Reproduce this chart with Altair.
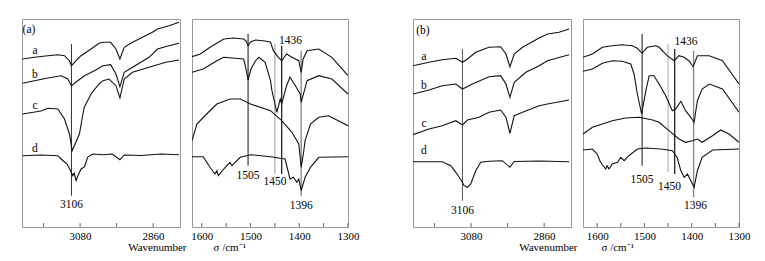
import altair as alt
import pandas as pd

FONT = "Liberation Serif"

# ---------- (a) 3300-2780 region: (wavenumber, relative intensity) ----------
A_HI_a = [(3253,168),(3218,169.7),(3177,171.3),(3147,172.3),(3127,171.3),(3112,166.3),(3106,161.3),(3092,166.3),(3077,171.3),(3047,178),(3023,183.7),(3011,184.7),(2988,184.7),(2972,178),(2960,168),(2947,179.7),(2922,184.7),(2892,189.7),(2862,194.7),(2847,198),(2812,201.3),(2782,204.7)]
A_HI_b = [(3253,143.7),(3218,146.3),(3177,149),(3137,151.3),(3117,148),(3106,141.3),(3087,146.3),(3067,151.3),(3037,156.3),(3011,161.3),(2988,162.3),(2972,153),(2960,140.3),(2947,154.7),(2922,159.7),(2872,169.7),(2847,178),(2812,181.3),(2782,183.7)]
A_HI_c = [(3253,113),(3198,116),(3177,118.7),(3147,118),(3127,108),(3112,93),(3104,76.3),(3082,93),(3072,112),(3067,120),(3047,133),(3023,143),(3011,146.3),(2993,148),(2972,141.3),(2960,129),(2947,148),(2922,154.7),(2872,159.7),(2822,164.7),(2782,167)]
A_HI_d = [(3253,71.3),(3198,72),(3147,71.3),(3137,68),(3127,65),(3119,63),(3113,59),(3107,55),(3102,51.3),(3098,54),(3092,46.3),(3087,51),(3077,58),(3067,60),(3057,70),(3042,73),(3011,72.3),(2983,73),(2960,67.3),(2947,72),(2896,71.5),(2836,73),(2782,72.3)]

# ---------- (a) 1620-1300 region ----------
A_LO_a = [(1620,170.3),(1603,173),(1583,179.7),(1555,188),(1535,189),(1514,188),(1509,186),(1505,181.3),(1500,185),(1490,187),(1470,186),(1459,184.7),(1453,176.3),(1443,169.7),(1436,166.3),(1426,173),(1415,169.7),(1401,166.3),(1396,154.7),(1392,168),(1384,176.3),(1360,178),(1333,169.7),(1300,151.3)]
A_LO_b = [(1620,154.7),(1597,158),(1569,166.3),(1555,169.7),(1514,168),(1510,160),(1505,147),(1499,158),(1490,166),(1483,169.7),(1470,164.7),(1459,146.3),(1456,136.3),(1446,114.7),(1439,128),(1436,123),(1426,141.3),(1419,149.7),(1408,141.3),(1398,133),(1396,124.7),(1384,146.3),(1360,151.3),(1333,148),(1300,133)]
A_LO_c = [(1620,86.3),(1610,103),(1590,113),(1569,123),(1542,128),(1521,128),(1500,123),(1459,116.3),(1436,106.3),(1415,94.7),(1401,83),(1396,59.7),(1391,75),(1388,86.3),(1377,103),(1360,109.7),(1340,111.3),(1300,101.3)]
A_LO_d = [(1620,70.3),(1597,70.3),(1583,59.7),(1573,53),(1569,56.3),(1566,51.3),(1555,58),(1542,64.7),(1538,61.3),(1521,69.7),(1500,72.3),(1459,70.3),(1429,68),(1419,48),(1412,49.7),(1405,44.7),(1401,48),(1396,36.3),(1388,49.7),(1377,59.7),(1360,69.7),(1300,70.3)]

# ---------- (b) 3300-2780 region ----------
B_HI_a = [(3255,161.3),(3207,164.7),(3167,167.3),(3126,168.7),(3106,164.7),(3091,168),(3066,174.7),(3026,179.7),(2991,180.3),(2975,173),(2963,160.3),(2950,173),(2925,179.7),(2875,189),(2850,193),(2815,194.7),(2785,198)]
B_HI_b = [(3255,133),(3207,137),(3167,141.3),(3126,143),(3106,138),(3076,143),(3026,150.3),(2991,151.3),(2975,143),(2963,129.7),(2950,144.7),(2915,154.7),(2875,161.3),(2850,166.3),(2785,172.3)]
B_HI_c = [(3255,92.3),(3207,98),(3167,101.3),(3126,106.3),(3106,102),(3091,107),(3056,109.7),(3026,114.7),(2991,117),(2975,109.7),(2963,93.7),(2950,111.3),(2925,114.7),(2875,121.3),(2850,123),(2785,127)]
B_HI_d = [(3255,65.3),(3167,65.3),(3141,61.3),(3126,54.7),(3116,49.7),(3110,47),(3101,41.3),(3091,39.7),(3081,43),(3066,56.3),(3051,64.7),(3026,65.7),(2986,66.3),(2963,59.7),(2950,65.5),(2875,66),(2785,65.3)]

# ---------- (b) 1630-1300 region ----------
B_LO_a = [(1630,169.7),(1610,173),(1589,179.7),(1568,181.3),(1547,182.3),(1526,181.3),(1516,179),(1505,173.7),(1494,179.7),(1476,181.3),(1469,179.7),(1452,171.3),(1437,166.3),(1427,171.3),(1416,169.7),(1406,166.3),(1397,160.3),(1388,171.3),(1363,171.3),(1335,166.3),(1300,143)]
B_LO_b = [(1630,155.7),(1610,158),(1589,163.7),(1568,166.3),(1547,165.7),(1529,163),(1522,153),(1515,133),(1506,113),(1497,136.3),(1490,151.3),(1480,151.3),(1469,143),(1455,131.3),(1441,116.3),(1434,118),(1423,125.7),(1413,116.3),(1402,109.7),(1395,104.7),(1388,126.3),(1378,138),(1363,143),(1335,138),(1300,114.7)]
B_LO_c = [(1630,93),(1610,99.7),(1589,103),(1568,106.3),(1540,109),(1512,109.7),(1483,107),(1469,104.7),(1448,96.3),(1427,88),(1413,84.7),(1399,86.3),(1388,88),(1378,84.7),(1356,91.3),(1339,97),(1321,93),(1300,84.7)]
B_LO_d = [(1630,77),(1610,78),(1600,73),(1593,64.7),(1582,58),(1579,61.3),(1575,58),(1568,63),(1557,64.7),(1550,69.7),(1543,66.3),(1533,71.3),(1515,78),(1497,79),(1465,78),(1441,76.3),(1431,69.7),(1423,56.3),(1416,49.7),(1409,53),(1402,46.3),(1395,39.7),(1388,56.3),(1378,69.7),(1356,77),(1300,78)]

# ---------- axes ----------
HI_LABELS = [3080, 2860]
HI_TICKS = [3190, 3080, 2970, 2860]
LO_LABELS = [1600, 1500, 1400, 1300]
LO_TICKS = [1600, 1550, 1500, 1450, 1400, 1350, 1300]

# ---------- annotations: (wavenumber, y_from, y_to, colour, width) ----------
A_HI_MARK = [(3106, 31.3, 183, "#333", 1)]
B_HI_MARK = [(3106, 26.3, 178, "#555", 1)]
A_LO_MARK = [(1505, 61.3, 193, "#111", 1), (1450, 53, 183, "#999", 1), (1436, 53, 181.3, "#111", 1.2), (1396, 31.3, 176.3, "#999", 1.6)]
B_LO_MARK = [(1505, 61.3, 193, "#111", 1), (1450, 54.7, 183, "#aaa", 1), (1436, 53, 178, "#111", 1.2), (1396, 29.7, 176.3, "#888", 1.3)]

# texts: (wavenumber, y, text)
A_HI_TEXT = [(3234, 197, "(a)"), (3216, 176, "a"), (3216, 152, "b"), (3216, 121.3, "c"), (3216, 78, "d"), (3106, 22, "3106")]
B_HI_TEXT = [(3225, 196, "(b)"), (3222, 169.7, "a"), (3222, 141.3, "b"), (3222, 103, "c"), (3222, 76.3, "d"), (3106, 16, "3106")]
A_LO_TEXT = [(1505, 51.5, "1505"), (1450, 45, "1450"), (1418, 186, "1436"), (1396, 21, "1396")]
B_LO_TEXT = [(1505, 47, "1505"), (1447, 40.5, "1450"), (1412, 185.5, "1436"), (1392, 21, "1396")]

H = 208


def panel(curves, domain, labels, ticks, marks, texts, width, title="", title_x=0, title_align="left"):
    rows = []
    for name, pts in curves.items():
        for wn, v in pts:
            rows.append({"wn": wn, "y": v, "curve": name})
    df = pd.DataFrame(rows)
    axis_kw = dict(values=labels, ticks=False, domain=False, grid=False, labelFont=FONT,
                   labelFontSize=11, labelColor="black", labelPadding=3, labelFlush=False,
                   format="d")
    if title:
        axis_kw.update(title=title, titleX=title_x, titleY=23, titleAlign=title_align,
                       titleBaseline="alphabetic", titleFont=FONT, titleFontSize=11,
                       titleFontWeight="normal", titleColor="black")
    else:
        axis_kw.update(title="")
    xscale = alt.Scale(domain=domain, reverse=True, nice=False, zero=False)
    yscale = alt.Scale(domain=[0, H], nice=False, zero=False)
    x = alt.X("wn:Q", scale=xscale, axis=alt.Axis(**axis_kw))

    lines = alt.Chart(df).mark_line(color="#111", strokeWidth=1.1, clip=True).encode(
        x=x, y=alt.Y("y:Q", scale=yscale, axis=None), detail="curve:N")

    tdf = pd.DataFrame({"wn": ticks})
    tick_layer = alt.Chart(tdf).mark_rule(color="#666", strokeWidth=1).encode(
        x=alt.X("wn:Q", scale=xscale), y=alt.value(H), y2=alt.value(H - 4))

    mdf = pd.DataFrame(marks, columns=["wn", "y1", "y2", "col", "sw"])
    mark_layer = alt.Chart(mdf).mark_rule().encode(
        x=alt.X("wn:Q", scale=xscale),
        y=alt.Y("y1:Q", scale=yscale, axis=None), y2="y2:Q",
        color=alt.Color("col:N", scale=None),
        strokeWidth=alt.StrokeWidth("sw:Q", scale=None))

    txdf = pd.DataFrame(texts, columns=["wn", "y", "label"])
    text_layer = alt.Chart(txdf).mark_text(font=FONT, fontSize=11.5, color="black",
                                           align="center", baseline="middle").encode(
        x=alt.X("wn:Q", scale=xscale), y=alt.Y("y:Q", scale=yscale, axis=None), text="label:N")

    return alt.layer(tick_layer, mark_layer, lines, text_layer).properties(width=width, height=H)


p1 = panel({"a": A_HI_a, "b": A_HI_b, "c": A_HI_c, "d": A_HI_d}, [2779, 3255], HI_LABELS, HI_TICKS,
           A_HI_MARK, A_HI_TEXT, 158, "Wavenumber", 164, "right")
p2 = panel({"a": A_LO_a, "b": A_LO_b, "c": A_LO_c, "d": A_LO_d}, [1300, 1620], LO_LABELS, LO_TICKS,
           A_LO_MARK, A_LO_TEXT, 156, "σ /cm⁻¹", 21, "left")
p3 = panel({"a": B_HI_a, "b": B_HI_b, "c": B_HI_c, "d": B_HI_d}, [2779, 3255], HI_LABELS, HI_TICKS,
           B_HI_MARK, B_HI_TEXT, 158, "Wavenumber", 164, "right")
p4 = panel({"a": B_LO_a, "b": B_LO_b, "c": B_LO_c, "d": B_LO_d}, [1300, 1630], LO_LABELS, LO_TICKS,
           B_LO_MARK, B_LO_TEXT, 156, "σ /cm⁻¹", 18, "left")

spacer = alt.Chart(pd.DataFrame({"v": [0]})).mark_point(opacity=0).encode(
    x=alt.value(0), y=alt.value(0)
).properties(width=41, height=H, view=alt.ViewBackground(stroke="transparent"))

chart = alt.hconcat(p1, p2, spacer, p3, p4, spacing=12, bounds="flush").properties(
    padding={"left": 21, "top": 15, "right": 5, "bottom": 5},
    background="white",
).configure_view(stroke="#999", strokeWidth=1)

chart.save("out.html", embed_options={"renderer": "svg", "actions": False})
